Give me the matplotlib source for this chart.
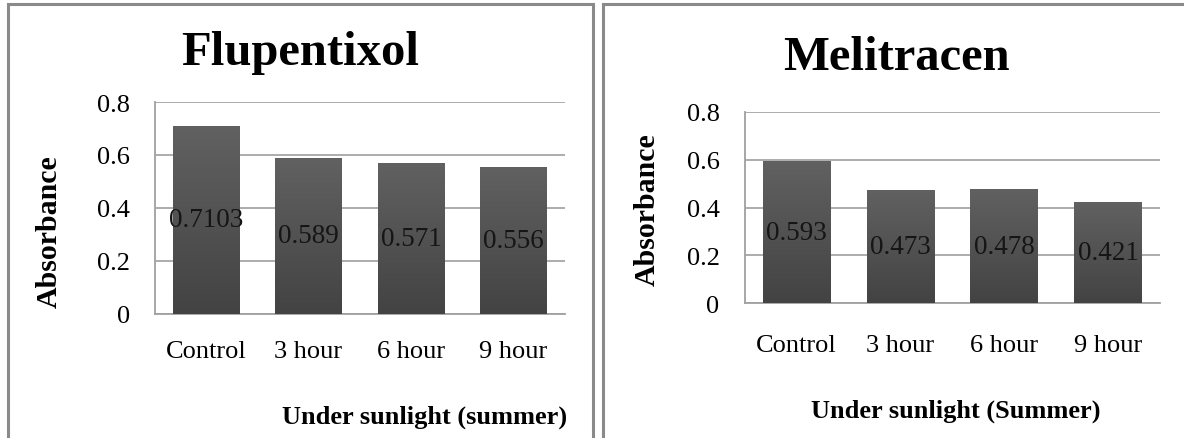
import numpy as np
import matplotlib
matplotlib.use("Agg")
import matplotlib.pyplot as plt
from matplotlib.patches import Rectangle

plt.rcParams['font.family'] = ['Liberation Serif', 'DejaVu Serif']

categories = ["Control", "3 hour", "6 hour", "9 hour"]
flupentixol = [0.7103, 0.589, 0.571, 0.556]
melitracen = [0.593, 0.473, 0.478, 0.421]
yticks = [0, 0.2, 0.4, 0.6, 0.8]
ytick_labels = ["0", "0.2", "0.4", "0.6", "0.8"]

fig = plt.figure(figsize=(11.84, 4.39), dpi=100)

# grey frames round each chart
for x0, w in [(8, 585), (603, 600)]:
    fig.patches.append(Rectangle((x0 / 1184, -0.05), w / 1184, 1.05 - 5 / 439,
                                 transform=fig.transFigure, fill=False,
                                 edgecolor='#8a8a8a', linewidth=2.2))

grad = np.linspace(0, 1, 256).reshape(-1, 1)
bar_cmap = matplotlib.colors.LinearSegmentedColormap.from_list(
    'bars', ['#434343', '#616161'])


def draw_panel(rect, values, title, title_xy, xlabel, xlabel_xy, ylabel_xy,
               xpad):
    ax = fig.add_axes(rect)
    x = np.arange(len(categories))
    bars = ax.bar(x, values, width=0.65, color='#555555', zorder=2)
    for b, v in zip(bars, values):
        im = ax.imshow(grad, cmap=bar_cmap, aspect='auto', origin='lower',
                       extent=[b.get_x(), b.get_x() + b.get_width(), 0, v],
                       zorder=3)
        im.set_clip_path(b)
        ax.text(b.get_x() + b.get_width() / 2, v / 2, str(v), ha='center',
                va='center', fontsize=19.5, color='#151515', zorder=4)
    ax.set_xlim(-0.5, len(categories) - 0.5)
    ax.set_ylim(0, 0.8)
    ax.set_yticks(yticks)
    ax.set_yticklabels(ytick_labels)
    ax.set_xticks(x)
    ax.set_xticklabels(categories)
    ax.tick_params(axis='both', length=0, labelsize=19)
    ax.tick_params(axis='y', pad=18)
    ax.tick_params(axis='x', pad=xpad)
    ax.yaxis.grid(True, color='#a6a6a6', linewidth=1.3, zorder=0)
    ax.set_axisbelow(True)
    for s in ['top', 'right']:
        ax.spines[s].set_visible(False)
    for s in ['left', 'bottom']:
        ax.spines[s].set_color('#a0a0a0')
        ax.spines[s].set_linewidth(1.3)
    fig.text(title_xy[0], title_xy[1], title, ha='center', va='baseline',
             fontsize=35, fontweight='bold')
    fig.text(xlabel_xy[0], xlabel_xy[1], xlabel, ha='center', va='baseline',
             fontsize=19, fontweight='bold')
    fig.text(ylabel_xy[0], ylabel_xy[1], "Absorbance", ha='center',
             va='center', rotation=90, fontsize=21.5, fontweight='bold')
    return ax


draw_panel([155 / 1184, 124 / 439, 409.5 / 1184, 212 / 439], flupentixol,
           "Flupentixol", (300 / 1184, 374 / 439),
           "Under sunlight (summer)", (424.5 / 1184, 15 / 439),
           (49 / 1184, 207 / 439), 19)
draw_panel([744.5 / 1184, 134.7 / 439, 415.5 / 1184, 191.6 / 439], melitracen,
           "Melitracen", (896 / 1184, 369 / 439),
           "Under sunlight (Summer)", (956 / 1184, 21 / 439),
           (647 / 1184, 229 / 439), 22)

fig.savefig("out.png", dpi=100)
